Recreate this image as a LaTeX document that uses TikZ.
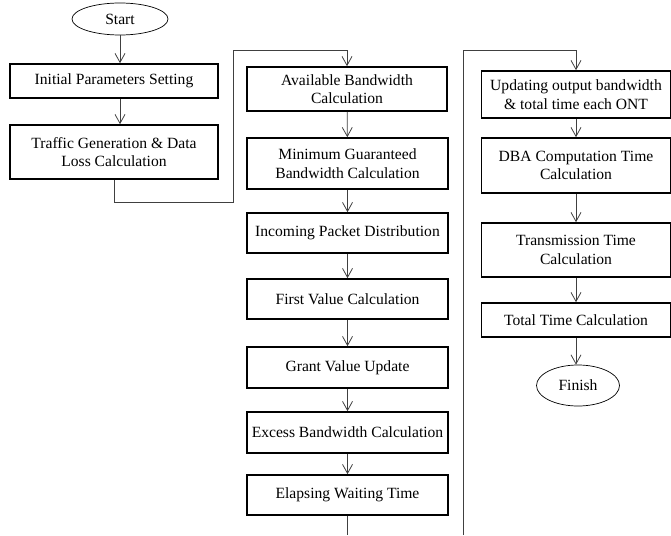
\documentclass[tikz,border=0pt]{standalone}
\usepackage{fontspec}
\setmainfont{Liberation Serif}
\usetikzlibrary{shapes.geometric,arrows.meta}
\begin{document}
\begin{tikzpicture}[x=1pt,y=-1pt,
  box/.style={draw=black,line width=1.6pt,rectangle,align=center,inner sep=1pt,
    font=\fontsize{15.6}{18.5}\selectfont},
  oval/.style={draw=black,line width=0.7pt,ellipse,inner sep=0pt,font=\fontsize{15.6}{18.5}\selectfont},
  conn/.style={draw=black!75,line width=0.8pt,-{Straight Barb[length=9pt,width=10pt]}},
  plain/.style={draw=black!75,line width=0.8pt}]
\useasboundingbox (0,0) rectangle (671,535);
% column 1
\node[oval,minimum width=96,minimum height=32] (start) at (120,19) {Start};
\node[box,minimum width=208,minimum height=34] (b1) at (114,81) {Initial Parameters Setting};
\node[box,minimum width=208,minimum height=54] (b2) at (114,152) {Traffic Generation \& Data\\Loss Calculation};
% column 2
\node[box,minimum width=200,minimum height=44] (b3) at (347,89) {Available Bandwidth\\Calculation};
\node[box,minimum width=201,minimum height=51] (b4) at (347.5,163.5) {Minimum Guaranteed\\Bandwidth Calculation};
\node[box,minimum width=201,minimum height=40] (b5) at (347.5,233) {Incoming Packet Distribution};
\node[box,minimum width=201,minimum height=40] (b6) at (347.5,299) {First Value Calculation};
\node[box,minimum width=201,minimum height=41] (b7) at (347.5,367.5) {Grant Value Update};
\node[box,minimum width=201,minimum height=41] (b8) at (347.5,432.5) {Excess Bandwidth Calculation};
\node[box,minimum width=201,minimum height=40] (b9) at (347.5,495) {Elapsing Waiting Time};
% column 3
\node[box,minimum width=189,minimum height=47] (b10) at (576,94.5) {Updating output bandwidth\\\& total time each ONT};
\node[box,minimum width=189,minimum height=55] (b11) at (576,165.5) {DBA Computation Time\\Calculation};
\node[box,minimum width=189,minimum height=54] (b12) at (576,250) {Transmission Time\\Calculation};
\node[box,minimum width=189,minimum height=34] (b13) at (576,320) {Total Time Calculation};
\node[oval,minimum width=83,minimum height=41] (finish) at (578,385.5) {Finish};
% connectors
\draw[conn] (start.south) -- (start.south |- b1.north);
\draw[conn] (start.south |- b1.south) -- (start.south |- b2.north);
\coordinate (l1) at (233,202);
\coordinate (t1) at (233,50);
\draw[conn] (b2.south) |- (l1) -- (t1) -| (b3.north);
\draw[conn] (b3) -- (b4);
\draw[conn] (b4) -- (b5);
\draw[conn] (b5) -- (b6);
\draw[conn] (b6) -- (b7);
\draw[conn] (b7) -- (b8);
\draw[conn] (b8) -- (b9);
\coordinate (e1) at (347.5,535);
\draw[plain] (b9.south) -- (e1);
\coordinate (e2) at (463,535);
\coordinate (t2) at (463,50);
\draw[conn] (e2) -- (t2) -| (b10.north);
\draw[conn] (b10) -- (b11);
\draw[conn] (b11) -- (b12);
\draw[conn] (b12) -- (b13);
\draw[conn] (b13.south) -- (b13.south |- finish.north);
\end{tikzpicture}
\end{document}
